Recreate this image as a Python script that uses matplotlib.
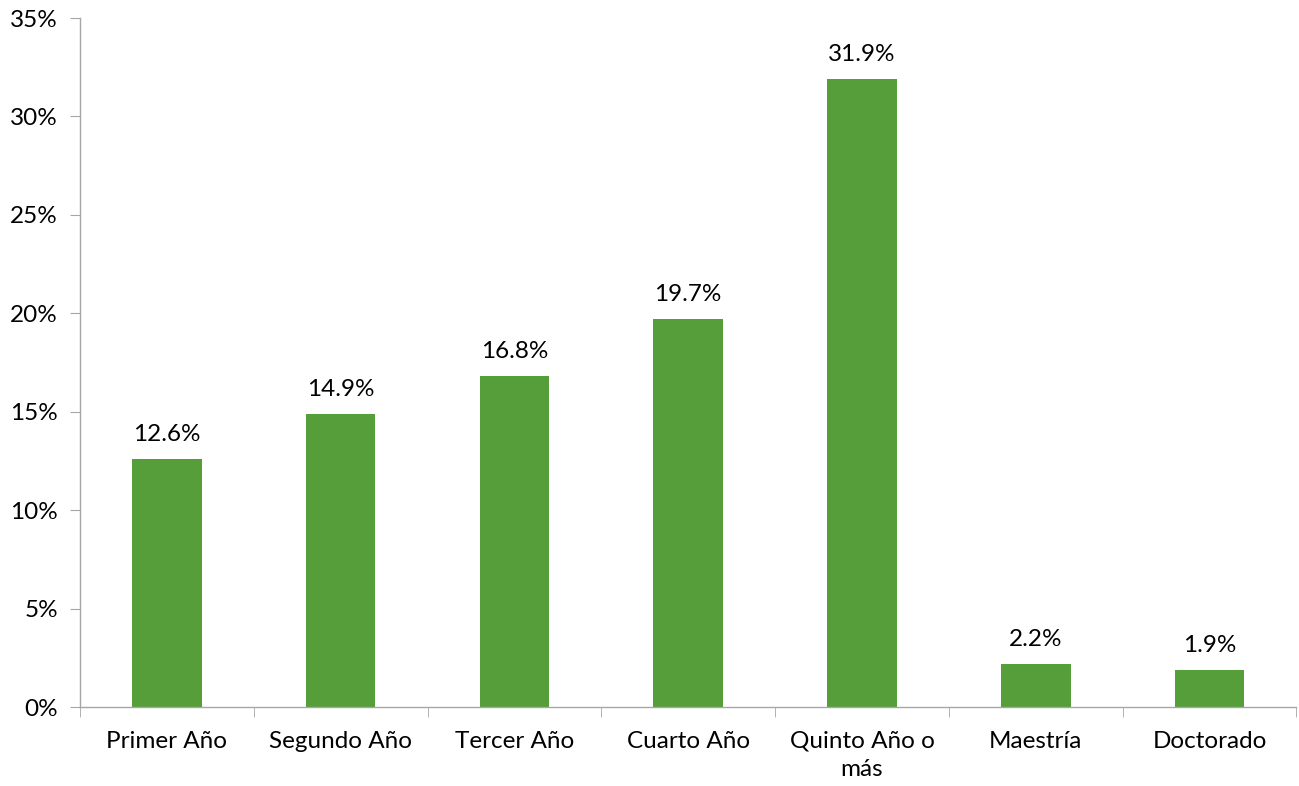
import matplotlib
matplotlib.use("Agg")
import matplotlib.pyplot as plt
import numpy as np

categories = ["Primer Año", "Segundo Año", "Tercer Año", "Cuarto Año", "Quinto Año o\nmás", "Maestría", "Doctorado"]
values = [12.6, 14.9, 16.8, 19.7, 31.9, 2.2, 1.9]
yticks = [0, 5, 10, 15, 20, 25, 30, 35]

plt.rcParams['font.family'] = ['Lato', 'DejaVu Sans']
FS = 17.5

fig = plt.figure(figsize=(12.99, 7.86), dpi=100)
ax = fig.add_axes([0.0616, 0.1005, 0.9364, 0.8765])

x = np.arange(len(categories))
ax.bar(x, values, width=0.4, color="#559E3A", zorder=2)
for xi, v in zip(x, values):
    ax.annotate(f"{v:.1f}%", (xi, v), xytext=(0, 10), textcoords="offset points",
                ha="center", va="bottom", fontsize=FS, color="#000000")

ax.set_xlim(-0.5, len(categories) - 0.5)
ax.set_ylim(0, 35)
ax.set_yticks(yticks)
ax.set_yticklabels([f"{t}%" for t in yticks], fontsize=FS)
ax.set_xticks(x)
ax.set_xticklabels(categories, fontsize=FS, linespacing=1.45)
ax.tick_params(axis="x", which="major", length=0, pad=17)
ax.set_xticks(np.arange(-0.5, len(categories), 1.0), minor=True)
ax.tick_params(axis="x", which="minor", length=7, color="#A6A6A6")
ax.tick_params(axis="y", length=7, color="#A6A6A6", pad=9)

for s in ["top", "right"]:
    ax.spines[s].set_visible(False)
for s in ["left", "bottom"]:
    ax.spines[s].set_color("#A6A6A6")
    ax.spines[s].set_linewidth(1.0)

fig.savefig("out.png", dpi=100)
